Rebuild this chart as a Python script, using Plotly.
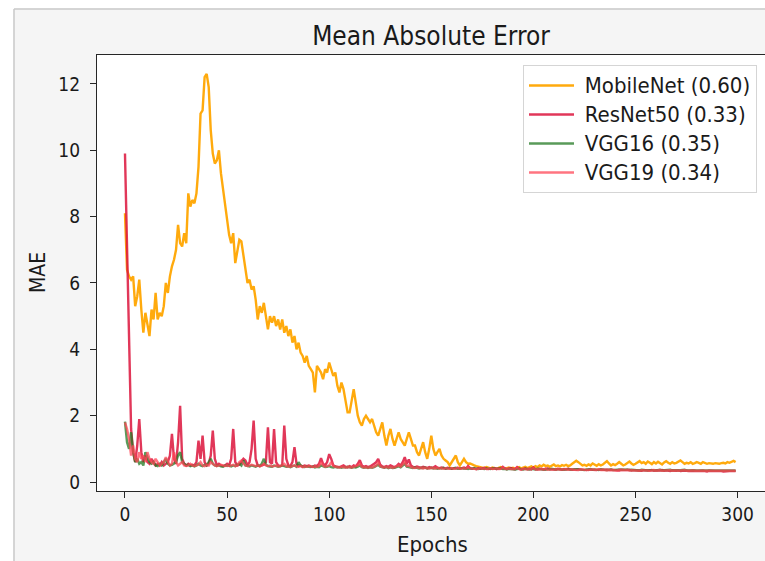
import plotly.graph_objects as go

epochs = list(range(300))

mobilenet = [
    8.1, 6.4, 6.2, 6.1, 6.2, 5.3, 5.6, 6.1, 5.2, 4.5,
    5.1, 4.8, 4.4, 5.2, 4.9, 5.7, 4.9, 5.1, 5.0, 5.3,
    6.0, 5.7, 6.2, 6.5, 6.7, 7.0, 7.75, 7.2, 7.1, 7.5,
    7.2, 8.7, 8.3, 8.5, 8.4, 8.7, 9.5, 11.1, 11.2, 12.2,
    12.3, 11.9, 10.6, 9.9, 9.6, 9.7, 10.0, 9.3, 8.8, 8.3,
    7.8, 7.45, 7.2, 7.5, 6.6, 7.0, 7.3, 7.25, 6.8, 6.3,
    6.0, 6.1, 5.8, 5.9, 5.5, 4.9, 5.3, 5.1, 5.4, 5.0,
    4.6, 5.0, 4.8, 5.0, 4.7, 4.9, 4.6, 4.9, 4.5, 4.7,
    4.4, 4.6, 4.2, 4.4, 4.0, 4.2, 3.9, 3.8, 3.6, 3.8,
    3.5, 3.4, 3.3, 2.7, 3.5, 3.4, 3.3, 3.1, 3.4, 3.3,
    3.6, 3.4, 3.2, 3.3, 2.9, 2.7, 3.0, 2.8, 2.5, 2.1,
    2.1, 2.5, 2.8, 2.4, 2.0, 1.8, 1.7, 1.9, 2.0, 1.9,
    1.8, 1.9, 1.7, 1.5, 1.4, 1.6, 1.8, 1.4, 1.1, 1.4,
    1.6, 1.3, 1.1, 1.3, 1.5, 1.3, 1.2, 1.1, 1.3, 1.5,
    1.3, 1.1, 1.1, 0.9, 0.8, 1.0, 1.2, 0.9, 0.7, 1.0,
    1.4, 1.0, 0.8, 0.9, 1.0, 0.8, 0.7, 0.65, 0.6, 0.5,
    0.6, 0.7, 0.8, 0.6, 0.5, 0.6, 0.7, 0.6, 0.55, 0.56,
    0.52, 0.5, 0.48, 0.46, 0.45, 0.44, 0.42, 0.45, 0.43, 0.41,
    0.44, 0.42, 0.40, 0.43, 0.45, 0.42, 0.40, 0.42, 0.44, 0.41,
    0.43, 0.40, 0.42, 0.45, 0.41, 0.43, 0.46, 0.42, 0.44, 0.47,
    0.43, 0.48, 0.45, 0.50, 0.47, 0.52, 0.48, 0.50, 0.46, 0.50,
    0.53, 0.48, 0.50, 0.47, 0.51, 0.49, 0.52, 0.48, 0.50, 0.55,
    0.60, 0.64, 0.60, 0.55, 0.50, 0.52, 0.49, 0.53, 0.50, 0.56,
    0.52, 0.49, 0.54, 0.50, 0.53, 0.58, 0.63, 0.56, 0.50, 0.54,
    0.51, 0.55, 0.60, 0.55, 0.50, 0.53, 0.57, 0.62, 0.56, 0.52,
    0.55, 0.60, 0.63, 0.57, 0.60, 0.55, 0.62, 0.58, 0.54, 0.60,
    0.56, 0.61, 0.57, 0.53, 0.59, 0.63, 0.58, 0.55, 0.60, 0.56,
    0.58, 0.62, 0.65, 0.60, 0.55, 0.58, 0.56, 0.60, 0.55, 0.57,
    0.60, 0.58, 0.55, 0.60, 0.57, 0.55, 0.57, 0.56, 0.55, 0.57,
    0.56, 0.55, 0.57, 0.58, 0.56, 0.60, 0.58, 0.62, 0.64, 0.60,
]

resnet50 = [
    9.9, 7.1, 4.4, 1.6, 0.9, 0.6, 1.1, 1.9, 0.9, 0.6,
    0.8, 0.6, 0.55, 0.7, 0.6, 0.5, 0.55, 0.5, 0.6, 0.5,
    0.55, 0.6, 0.8, 1.45, 0.7, 0.55, 1.2, 2.3, 0.7, 0.55,
    0.5, 0.55, 0.5, 0.52, 0.5, 0.6, 1.25, 0.7, 1.4, 0.6,
    0.5, 0.55, 0.8, 1.55, 0.7, 0.5, 0.55, 0.5, 0.48, 0.5,
    0.55, 0.5, 0.7, 1.6, 0.6, 0.5, 0.52, 0.6, 0.7, 0.65,
    0.5, 0.6, 1.0, 1.85, 0.7, 0.5, 0.48, 0.5, 0.52, 0.6,
    1.65, 0.6, 0.55, 1.6, 0.6, 0.5, 0.48, 0.5, 1.7, 0.7,
    0.5, 0.48, 0.6, 1.05, 0.55, 0.48, 0.5, 0.47, 0.5, 0.48,
    0.5, 0.47, 0.46, 0.5, 0.48, 0.55, 0.72, 0.55, 0.5, 0.6,
    0.84, 0.7, 0.5, 0.47, 0.45, 0.45, 0.47, 0.5, 0.46, 0.44,
    0.48, 0.45, 0.5, 0.47, 0.55, 0.66, 0.5, 0.46, 0.48, 0.45,
    0.47, 0.5, 0.55, 0.6, 0.7, 0.52, 0.47, 0.45, 0.48, 0.46,
    0.5, 0.47, 0.45, 0.48, 0.55, 0.5, 0.6, 0.75, 0.55, 0.68,
    0.5, 0.46, 0.44, 0.47, 0.45, 0.43, 0.46, 0.44, 0.42, 0.45,
    0.43, 0.44, 0.48, 0.43, 0.42, 0.44, 0.42, 0.41, 0.43, 0.42,
    0.40, 0.42, 0.41, 0.43, 0.40, 0.42, 0.44, 0.41, 0.48, 0.42,
    0.40, 0.41, 0.39, 0.42, 0.40, 0.41, 0.43, 0.40, 0.39, 0.41,
    0.40, 0.42, 0.39, 0.41, 0.40, 0.46, 0.41, 0.39, 0.40, 0.42,
    0.40, 0.39, 0.45, 0.40, 0.38, 0.40, 0.41, 0.39, 0.40, 0.38,
    0.44, 0.39, 0.38, 0.40, 0.39, 0.38, 0.40, 0.41, 0.39, 0.38,
    0.39, 0.38, 0.40, 0.38, 0.37, 0.39, 0.38, 0.40, 0.38, 0.37,
    0.38, 0.37, 0.39, 0.38, 0.37, 0.38, 0.36, 0.38, 0.37, 0.38,
    0.37, 0.36, 0.38, 0.37, 0.36, 0.37, 0.38, 0.36, 0.37, 0.36,
    0.37, 0.36, 0.35, 0.37, 0.36, 0.35, 0.36, 0.37, 0.35, 0.36,
    0.35, 0.36, 0.35, 0.34, 0.36, 0.35, 0.34, 0.35, 0.36, 0.34,
    0.35, 0.34, 0.35, 0.36, 0.34, 0.35, 0.34, 0.33, 0.35, 0.34,
    0.34, 0.35, 0.33, 0.34, 0.35, 0.34, 0.33, 0.34, 0.33, 0.34,
    0.33, 0.34, 0.33, 0.34, 0.33, 0.32, 0.34, 0.33, 0.34, 0.33,
    0.33, 0.34, 0.33, 0.32, 0.33, 0.34, 0.33, 0.33, 0.34, 0.33,
]

vgg16 = [
    1.82, 1.2, 1.0, 1.5, 0.9, 0.6, 0.7, 0.55, 0.6, 0.5,
    0.9, 0.75, 0.6, 0.55, 0.6, 0.5, 0.48, 0.55, 0.5, 0.6,
    0.7, 0.55, 0.5, 0.52, 0.55, 0.6, 0.8, 0.9, 0.6, 0.55,
    0.5, 0.52, 0.48, 0.5, 0.47, 0.5, 0.55, 0.5, 0.48, 0.52,
    0.5, 0.6, 0.7, 0.55, 0.5, 0.48, 0.5, 0.47, 0.46, 0.5,
    0.48, 0.5, 0.47, 0.5, 0.48, 0.52, 0.55, 0.5, 0.65, 0.5,
    0.48, 0.47, 0.5, 0.48, 0.46, 0.5, 0.48, 0.55, 0.7, 0.52,
    0.48, 0.47, 0.46, 0.5, 0.48, 0.46, 0.47, 0.5, 0.48, 0.46,
    0.47, 0.45, 0.48, 0.5, 0.46, 0.6, 0.5, 0.46, 0.45, 0.47,
    0.46, 0.45, 0.47, 0.44, 0.46, 0.45, 0.5, 0.47, 0.45, 0.46,
    0.48, 0.45, 0.44, 0.46, 0.44, 0.45, 0.43, 0.45, 0.44, 0.46,
    0.44, 0.43, 0.45, 0.44, 0.46, 0.5, 0.45, 0.43, 0.44, 0.42,
    0.44, 0.43, 0.45, 0.48, 0.52, 0.46, 0.44, 0.43, 0.45, 0.42,
    0.44, 0.42, 0.43, 0.45, 0.47, 0.44, 0.5, 0.55, 0.46, 0.44,
    0.43, 0.42, 0.44, 0.42, 0.41, 0.43, 0.42, 0.44, 0.41, 0.42,
    0.43, 0.41, 0.42, 0.40, 0.42, 0.41, 0.43, 0.40, 0.41, 0.42,
    0.40, 0.41, 0.43, 0.40, 0.41, 0.42, 0.40, 0.41, 0.39, 0.41,
    0.40, 0.42, 0.40, 0.39, 0.41, 0.40, 0.39, 0.41, 0.40, 0.39,
    0.41, 0.40, 0.39, 0.40, 0.42, 0.39, 0.40, 0.38, 0.40, 0.39,
    0.40, 0.38, 0.39, 0.41, 0.39, 0.38, 0.40, 0.39, 0.38, 0.40,
    0.39, 0.38, 0.40, 0.39, 0.38, 0.39, 0.37, 0.39, 0.38, 0.40,
    0.38, 0.37, 0.39, 0.38, 0.39, 0.37, 0.38, 0.39, 0.37, 0.38,
    0.37, 0.39, 0.38, 0.37, 0.38, 0.36, 0.38, 0.37, 0.39, 0.37,
    0.38, 0.37, 0.36, 0.38, 0.37, 0.38, 0.36, 0.37, 0.38, 0.36,
    0.37, 0.36, 0.38, 0.37, 0.36, 0.37, 0.38, 0.36, 0.37, 0.36,
    0.37, 0.36, 0.35, 0.37, 0.36, 0.37, 0.35, 0.36, 0.37, 0.36,
    0.35, 0.36, 0.37, 0.35, 0.36, 0.35, 0.36, 0.37, 0.35, 0.36,
    0.36, 0.35, 0.36, 0.35, 0.37, 0.35, 0.36, 0.35, 0.36, 0.35,
    0.35, 0.36, 0.35, 0.36, 0.35, 0.34, 0.36, 0.35, 0.36, 0.35,
    0.36, 0.35, 0.34, 0.35, 0.36, 0.35, 0.34, 0.35, 0.36, 0.35,
]

vgg19 = [
    1.8, 1.6, 1.3, 0.8, 1.1, 0.7, 0.6, 0.9, 0.7, 0.8,
    0.6, 0.9, 0.7, 0.6, 0.55, 0.7, 0.6, 0.5, 0.55, 0.6,
    0.75, 0.6, 0.5, 0.55, 0.9, 0.6, 0.5, 0.55, 0.6, 0.5,
    0.48, 0.5, 0.55, 0.5, 0.48, 0.5, 0.52, 0.6, 0.5, 0.48,
    0.52, 0.5, 0.6, 0.55, 0.5, 0.48, 0.5, 0.52, 0.5, 0.48,
    0.5, 0.48, 0.5, 0.52, 0.48, 0.5, 0.6, 0.65, 0.55, 0.5,
    0.48, 0.5, 0.52, 0.5, 0.48, 0.5, 0.47, 0.5, 0.55, 0.5,
    0.48, 0.5, 0.47, 0.48, 0.5, 0.47, 0.48, 0.5, 0.55, 0.48,
    0.47, 0.46, 0.48, 0.5, 0.47, 0.46, 0.48, 0.45, 0.47, 0.46,
    0.48, 0.46, 0.45, 0.47, 0.46, 0.48, 0.6, 0.5, 0.46, 0.48,
    0.5, 0.6, 0.48, 0.46, 0.45, 0.44, 0.46, 0.45, 0.44, 0.46,
    0.45, 0.44, 0.46, 0.48, 0.5, 0.55, 0.46, 0.44, 0.45, 0.43,
    0.45, 0.44, 0.47, 0.5, 0.58, 0.48, 0.45, 0.44, 0.46, 0.43,
    0.45, 0.43, 0.44, 0.46, 0.5, 0.46, 0.55, 0.6, 0.48, 0.5,
    0.45, 0.43, 0.42, 0.44, 0.42, 0.43, 0.41, 0.43, 0.42, 0.41,
    0.43, 0.42, 0.41, 0.43, 0.41, 0.42, 0.40, 0.42, 0.41, 0.40,
    0.42, 0.40, 0.41, 0.43, 0.40, 0.41, 0.42, 0.40, 0.45, 0.41,
    0.40, 0.41, 0.39, 0.40, 0.42, 0.40, 0.41, 0.39, 0.40, 0.41,
    0.39, 0.40, 0.41, 0.39, 0.40, 0.44, 0.40, 0.39, 0.41, 0.39,
    0.40, 0.39, 0.43, 0.39, 0.38, 0.40, 0.39, 0.38, 0.40, 0.39,
    0.42, 0.38, 0.39, 0.38, 0.40, 0.38, 0.39, 0.37, 0.38, 0.39,
    0.38, 0.37, 0.39, 0.38, 0.37, 0.38, 0.39, 0.37, 0.38, 0.37,
    0.38, 0.37, 0.36, 0.38, 0.37, 0.38, 0.37, 0.36, 0.38, 0.37,
    0.36, 0.37, 0.38, 0.36, 0.37, 0.36, 0.35, 0.37, 0.36, 0.37,
    0.36, 0.35, 0.37, 0.36, 0.35, 0.36, 0.37, 0.35, 0.36, 0.35,
    0.36, 0.35, 0.34, 0.36, 0.35, 0.36, 0.35, 0.34, 0.35, 0.36,
    0.34, 0.35, 0.36, 0.34, 0.35, 0.34, 0.35, 0.36, 0.34, 0.35,
    0.35, 0.34, 0.35, 0.34, 0.36, 0.34, 0.35, 0.34, 0.35, 0.34,
    0.34, 0.35, 0.34, 0.33, 0.35, 0.34, 0.35, 0.34, 0.33, 0.34,
    0.35, 0.34, 0.33, 0.34, 0.35, 0.34, 0.33, 0.34, 0.35, 0.34,
]

model_names = ["MobileNet", "ResNet50", "VGG16", "VGG19"]
model_scores = ["0.60", "0.33", "0.35", "0.34"]
series = [mobilenet, resnet50, vgg16, vgg19]
colors = ["rgba(255,165,0,0.95)", "rgba(220,20,60,0.85)",
          "rgba(34,120,34,0.75)", "rgba(255,70,85,0.75)"]

x_ticks = [0, 50, 100, 150, 200, 250, 300]
y_ticks = [0, 2, 4, 6, 8, 10, 12]

FONT = "DejaVu Sans Condensed, DejaVu Sans"
AX = "#262626"
TXT = "#1a1a1a"

fig = go.Figure()
for name, score, ys, col in zip(model_names, model_scores, series, colors):
    fig.add_trace(go.Scatter(
        x=epochs, y=ys, mode="lines",
        name=f"&nbsp;<span style='font-size:22px'>{name} ({score})</span>",
        line=dict(color=col, width=2.4),
    ))

W, H = 765, 561
L, R, T, B = 97, 0, 55, 70
pw, ph = W - L - R, H - T - B


def px(x):
    return (x - L) / pw


def py(y):
    return (H - B - y) / ph


shapes = [
    dict(type="rect", xref="paper", yref="paper", x0=px(-2), x1=px(13.5),
         y0=py(H + 2), y1=py(-2), fillcolor="white", line=dict(width=0), layer="above"),
    dict(type="rect", xref="paper", yref="paper", x0=px(-2), x1=px(W + 2),
         y0=py(8.5), y1=py(-2), fillcolor="white", line=dict(width=0), layer="above"),
    dict(type="line", xref="paper", yref="paper", x0=px(14), x1=px(14),
         y0=py(H + 2), y1=py(9), line=dict(color="#c8c8c8", width=1.5), layer="above"),
    dict(type="line", xref="paper", yref="paper", x0=px(14), x1=px(W + 2),
         y0=py(9), y1=py(9), line=dict(color="#c8c8c8", width=1.5), layer="above"),
]

annotations = [
    dict(text="MAE", xref="paper", yref="paper", x=px(38), y=py(273),
         textangle=-90, showarrow=False, font=dict(family=FONT, size=21, color=TXT),
         xanchor="center", yanchor="middle"),
    dict(text="Epochs", xref="paper", yref="paper", x=px(432), y=py(544),
         showarrow=False, font=dict(family=FONT, size=22, color=TXT),
         xanchor="center", yanchor="middle"),
]

axis_common = dict(
    showline=True, linecolor=AX, linewidth=1.2,
    ticks="outside", ticklen=6, tickwidth=1.2, tickcolor=AX,
    showgrid=False, zeroline=False, automargin=False,
    tickfont=dict(family=FONT, size=19, color=TXT),
)

fig.update_layout(
    width=W, height=H,
    margin=dict(l=L, r=R, t=T, b=B, pad=0, autoexpand=False),
    paper_bgcolor="#f5f5f5",
    plot_bgcolor="white",
    title=dict(text="Mean Absolute Error", xref="paper", x=px(431), xanchor="center",
               yref="container", y=1 - 36 / H, yanchor="middle",
               font=dict(family=FONT, size=26, color=TXT)),
    font=dict(family=FONT, color=TXT),
    showlegend=True,
    legend=dict(x=px(757), y=py(65), xanchor="right", yanchor="top",
                bgcolor="white", bordercolor="#d5d5d5", borderwidth=1,
                itemwidth=45,
                font=dict(family=FONT, size=20, color=TXT)),
    shapes=shapes,
    annotations=annotations,
    xaxis=dict(range=[-13.7, 313.4], tickvals=x_ticks, ticktext=[str(v) for v in x_ticks],
               mirror=True, **axis_common),
    yaxis=dict(range=[-0.27, 12.87], tickvals=y_ticks, ticktext=[str(v) for v in y_ticks],
               mirror=False, ticklabelstandoff=6, **axis_common),
)

fig.write_html(
    "out.html",
    config={"displayModeBar": False},
    post_script=("document.body.style.margin='0';document.body.style.padding='0';"
                 "document.body.style.overflow='hidden';"
                 "document.documentElement.style.overflow='hidden';"),
)
